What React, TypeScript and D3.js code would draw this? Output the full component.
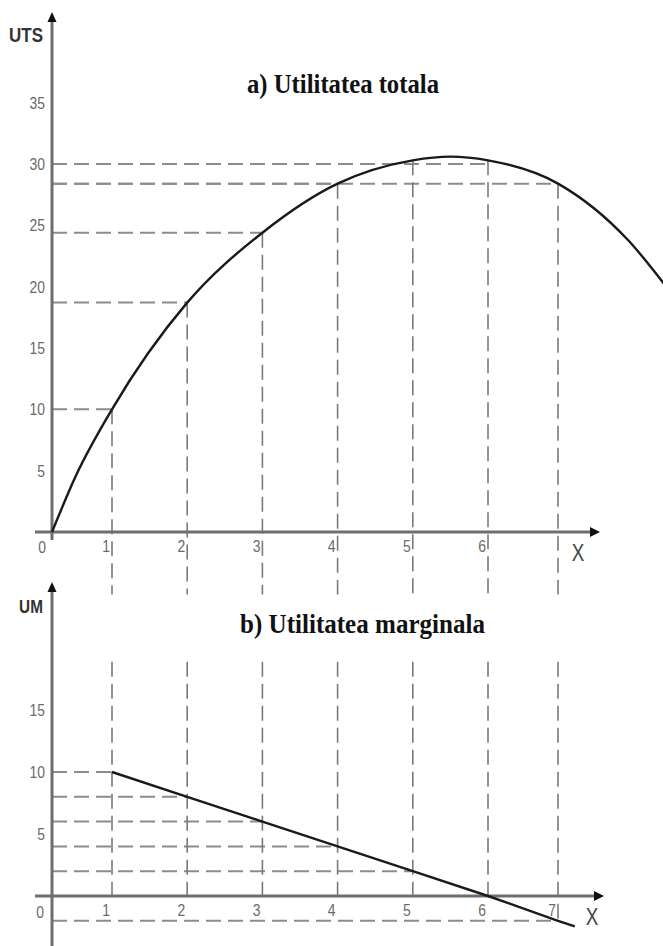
import React from "react";
import * as d3 from "d3";

// Quantities consumed and the utilities read for each one
const quantities = [1, 2, 3, 4, 5, 6, 7];
const totalUtility = [10, 18.7, 24.4, 28.4, 30, 30, 28.4];
const marginalUtility = [10, 8, 6, 4, 2, 0, -2];

// Points the total-utility curve is drawn through
const curveQ = [0, 0.4, 1, 2, 3, 4, 5, 5.5, 6, 7, 8, 8.6];
const curveUT = [0, 4.6, 10, 18.7, 24.4, 28.4, 30.3, 30.6, 30.3, 28.4, 23.8, 19.6];

// Marginal-utility line ends a little past the last quantity
const umEndQ = 7.24;
const umEndValue = -2.45;

// Tick labels
const topYTicks = [5, 10, 15, 20, 25, 30, 35];
const topXTicks = [1, 2, 3, 4, 5, 6];
const bottomYTicks = [5, 10, 15];
const bottomXTicks = [1, 2, 3, 4, 5, 6, 7];

const W = 663;
const H = 946;

const AXIS_X = 52;
const TOP_AXIS_Y = 532;
const BOT_AXIS_Y = 896;

const AXIS_COLOR = "#6e6e6e";
const GUIDE_COLOR = "#8c8c8c";
const LABEL_COLOR = "#6a6a6a";
const SANS = "'Liberation Sans', Arial, sans-serif";
const SERIF = "'Liberation Serif', 'Times New Roman', serif";

type NarrowProps = {
  x: number;
  y: number;
  anchor?: "start" | "middle" | "end";
  size?: number;
  fill?: string;
  weight?: string;
  sx?: number;
  children: React.ReactNode;
};

// Condensed sans label: drawn at the origin and squeezed horizontally
function Narrow({ x, y, anchor = "middle", size = 17, fill = LABEL_COLOR, weight = "normal", sx = 0.82, children }: NarrowProps) {
  return (
    <text
      transform={`translate(${x},${y}) scale(${sx},1)`}
      dy="0.36em"
      textAnchor={anchor}
      fontFamily={SANS}
      fontSize={size}
      fontWeight={weight}
      fill={fill}
    >
      {children}
    </text>
  );
}

export default function App() {
  const x = d3.scaleLinear().domain([0, 1, 6, 7]).range([AXIS_X, 112, 488, 558]);
  const yTop = d3.scaleLinear().domain([0, 30]).range([TOP_AXIS_Y, 164]);
  const yBot = d3.scaleLinear().domain([0, 10]).range([BOT_AXIS_Y, 772]);

  // guide extents in each panel's own units
  const topGuideLow = -5.1;
  const bottomGuideHigh = 18.9;

  const curvePts: [number, number][] = curveQ.map((q, i) => [q, curveUT[i]]);
  const utLine = d3
    .line<[number, number]>()
    .x((d) => x(d[0]))
    .y((d) => yTop(d[1]))
    .curve(d3.curveMonotoneX);

  const umPts: [number, number][] = quantities.map((q, i) => [q, marginalUtility[i]] as [number, number]);
  umPts.push([umEndQ, umEndValue]);
  const umLine = d3
    .line<[number, number]>()
    .x((d) => x(d[0]))
    .y((d) => yBot(d[1]));

  const dash = "15 7";

  return (
    <svg
      width={W}
      height={H}
      viewBox={`0 0 ${W} ${H}`}
      style={{ position: "absolute", left: 0, top: 0, background: "#fff" }}
    >
      <rect x={0} y={0} width={W} height={H} fill="#fff" />

      {/* ---------- a) total utility ---------- */}
      <g>
        {/* horizontal guides */}
        {quantities.map((q, i) => (
          <line
            key={`th${q}`}
            x1={x(0)}
            x2={x(q)}
            y1={yTop(totalUtility[i])}
            y2={yTop(totalUtility[i])}
            stroke={GUIDE_COLOR}
            strokeWidth={2}
            strokeDasharray={dash}
          />
        ))}
        {/* vertical guides, from the curve down past the axis */}
        {quantities.map((q) => (
          <line
            key={`tv${q}`}
            x1={x(q)}
            x2={x(q)}
            y1={yTop(curveUT[curveQ.indexOf(q)])}
            y2={yTop(topGuideLow)}
            stroke={"#7a7a7a"}
            strokeWidth={1.6}
            strokeDasharray={dash}
          />
        ))}

        {/* axes */}
        <line x1={35} x2={592} y1={TOP_AXIS_Y} y2={TOP_AXIS_Y} stroke={AXIS_COLOR} strokeWidth={3} />
        <path d={`M${600},${TOP_AXIS_Y} L${590},${TOP_AXIS_Y - 5} L${590},${TOP_AXIS_Y + 5} Z`} fill="#111" />
        <line x1={AXIS_X} x2={AXIS_X} y1={TOP_AXIS_Y + 8} y2={22} stroke={AXIS_COLOR} strokeWidth={3} />
        <path d={`M${AXIS_X},${12} L${AXIS_X - 4.5},${22} L${AXIS_X + 4.5},${22} Z`} fill="#111" />

        {/* curve */}
        <path d={utLine(curvePts) ?? ""} fill="none" stroke="#1a1a1a" strokeWidth={2.4} />

        {/* tick labels */}
        {topYTicks.map((t) => (
          <Narrow key={`ty${t}`} x={45} y={yTop(t)} anchor="end">
            {t}
          </Narrow>
        ))}
        {topXTicks.map((t) => (
          <Narrow key={`tx${t}`} x={x(t) - 2} y={TOP_AXIS_Y + 14} anchor="end">
            {t}
          </Narrow>
        ))}
        <Narrow x={42} y={TOP_AXIS_Y + 15}>0</Narrow>
        <Narrow x={578} y={553} size={23} fill="#444">X</Narrow>
        <Narrow x={26} y={35} size={20} fill="#333" weight="bold" sx={0.85}>UTS</Narrow>

        <text x={247} y={93} fontFamily={SERIF} fontWeight="bold" fontSize={28} fill="#111" textLength={192} lengthAdjust="spacingAndGlyphs">
          a) Utilitatea totala
        </text>
      </g>

      {/* ---------- b) marginal utility ---------- */}
      <g>
        {quantities.map((q, i) => (
          <line
            key={`bh${q}`}
            x1={x(0)}
            x2={x(q)}
            y1={yBot(marginalUtility[i])}
            y2={yBot(marginalUtility[i])}
            stroke={GUIDE_COLOR}
            strokeWidth={2}
            strokeDasharray={dash}
          />
        ))}
        {quantities.map((q, i) => (
          <line
            key={`bv${q}`}
            x1={x(q)}
            x2={x(q)}
            y1={yBot(bottomGuideHigh)}
            y2={yBot(Math.min(0, marginalUtility[i]))}
            stroke={"#7a7a7a"}
            strokeWidth={1.6}
            strokeDasharray={dash}
          />
        ))}

        <line x1={35} x2={596} y1={BOT_AXIS_Y} y2={BOT_AXIS_Y} stroke={AXIS_COLOR} strokeWidth={3} />
        <path d={`M${604},${BOT_AXIS_Y} L${594},${BOT_AXIS_Y - 5} L${594},${BOT_AXIS_Y + 5} Z`} fill="#111" />
        <line x1={AXIS_X} x2={AXIS_X} y1={H} y2={592} stroke={AXIS_COLOR} strokeWidth={3} />
        <path d={`M${AXIS_X},${582} L${AXIS_X - 4.5},${592} L${AXIS_X + 4.5},${592} Z`} fill="#111" />

        <path d={umLine(umPts) ?? ""} fill="none" stroke="#1a1a1a" strokeWidth={2.4} />

        {bottomYTicks.map((t) => (
          <Narrow key={`by${t}`} x={45} y={yBot(t)} anchor="end">
            {t}
          </Narrow>
        ))}
        {bottomXTicks.map((t) => (
          <Narrow key={`bx${t}`} x={x(t) - 2} y={BOT_AXIS_Y + 14} anchor="end">
            {t}
          </Narrow>
        ))}
        <Narrow x={40} y={BOT_AXIS_Y + 16}>0</Narrow>
        <Narrow x={592} y={917} size={23} fill="#444">X</Narrow>
        <Narrow x={31} y={607} size={18} fill="#333" weight="bold" sx={0.85}>UM</Narrow>

        <text x={240} y={633} fontFamily={SERIF} fontWeight="bold" fontSize={28} fill="#111" textLength={245} lengthAdjust="spacingAndGlyphs">
          b) Utilitatea marginala
        </text>
      </g>
    </svg>
  );
}
